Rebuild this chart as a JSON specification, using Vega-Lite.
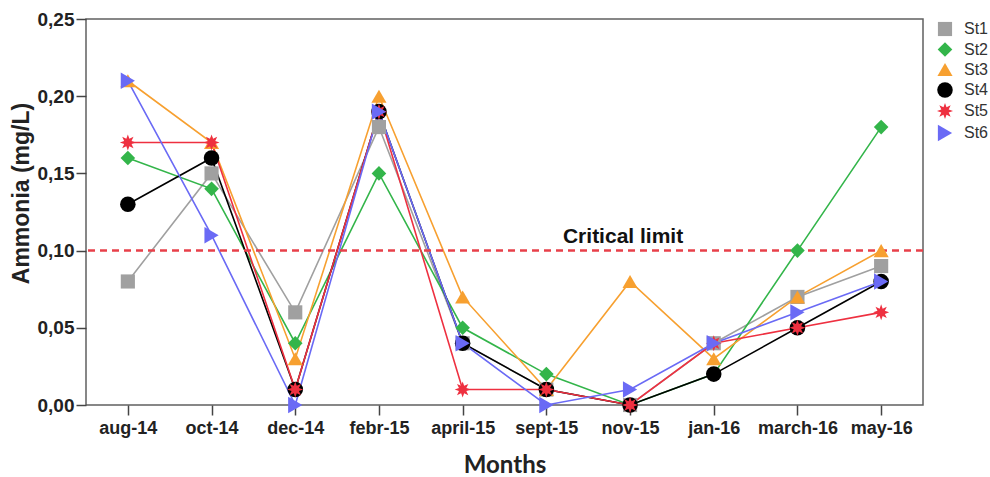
{
  "$schema": "https://vega.github.io/schema/vega-lite/v6.json",
  "width": 837,
  "height": 386,
  "autosize": "none",
  "padding": {"left": 86, "top": 19, "right": 67, "bottom": 72},
  "background": "white",
  "config": {
    "view": {"stroke": "#606060", "strokeWidth": 1.5},
    "font": "Liberation Sans"
  },
  "datasets": {
    "limit": [{"limit": 0.1, "label": "Critical limit", "month": "nov-15"}],
    "ammonia": [
      {"month": "aug-14", "station": "St1", "ammonia": 0.08},
      {"month": "oct-14", "station": "St1", "ammonia": 0.15},
      {"month": "dec-14", "station": "St1", "ammonia": 0.06},
      {"month": "febr-15", "station": "St1", "ammonia": 0.18},
      {"month": "april-15", "station": "St1", "ammonia": 0.04},
      {"month": "sept-15", "station": "St1", "ammonia": 0.01},
      {"month": "nov-15", "station": "St1", "ammonia": 0.0},
      {"month": "jan-16", "station": "St1", "ammonia": 0.04},
      {"month": "march-16", "station": "St1", "ammonia": 0.07},
      {"month": "may-16", "station": "St1", "ammonia": 0.09},
      {"month": "aug-14", "station": "St2", "ammonia": 0.16},
      {"month": "oct-14", "station": "St2", "ammonia": 0.14},
      {"month": "dec-14", "station": "St2", "ammonia": 0.04},
      {"month": "febr-15", "station": "St2", "ammonia": 0.15},
      {"month": "april-15", "station": "St2", "ammonia": 0.05},
      {"month": "sept-15", "station": "St2", "ammonia": 0.02},
      {"month": "nov-15", "station": "St2", "ammonia": 0.0},
      {"month": "jan-16", "station": "St2", "ammonia": 0.02},
      {"month": "march-16", "station": "St2", "ammonia": 0.10},
      {"month": "may-16", "station": "St2", "ammonia": 0.18},
      {"month": "aug-14", "station": "St3", "ammonia": 0.21},
      {"month": "oct-14", "station": "St3", "ammonia": 0.17},
      {"month": "dec-14", "station": "St3", "ammonia": 0.03},
      {"month": "febr-15", "station": "St3", "ammonia": 0.20},
      {"month": "april-15", "station": "St3", "ammonia": 0.07},
      {"month": "sept-15", "station": "St3", "ammonia": 0.01},
      {"month": "nov-15", "station": "St3", "ammonia": 0.08},
      {"month": "jan-16", "station": "St3", "ammonia": 0.03},
      {"month": "march-16", "station": "St3", "ammonia": 0.07},
      {"month": "may-16", "station": "St3", "ammonia": 0.10},
      {"month": "aug-14", "station": "St4", "ammonia": 0.13},
      {"month": "oct-14", "station": "St4", "ammonia": 0.16},
      {"month": "dec-14", "station": "St4", "ammonia": 0.01},
      {"month": "febr-15", "station": "St4", "ammonia": 0.19},
      {"month": "april-15", "station": "St4", "ammonia": 0.04},
      {"month": "sept-15", "station": "St4", "ammonia": 0.01},
      {"month": "nov-15", "station": "St4", "ammonia": 0.0},
      {"month": "jan-16", "station": "St4", "ammonia": 0.02},
      {"month": "march-16", "station": "St4", "ammonia": 0.05},
      {"month": "may-16", "station": "St4", "ammonia": 0.08},
      {"month": "aug-14", "station": "St5", "ammonia": 0.17},
      {"month": "oct-14", "station": "St5", "ammonia": 0.17},
      {"month": "dec-14", "station": "St5", "ammonia": 0.01},
      {"month": "febr-15", "station": "St5", "ammonia": 0.19},
      {"month": "april-15", "station": "St5", "ammonia": 0.01},
      {"month": "sept-15", "station": "St5", "ammonia": 0.01},
      {"month": "nov-15", "station": "St5", "ammonia": 0.0},
      {"month": "jan-16", "station": "St5", "ammonia": 0.04},
      {"month": "march-16", "station": "St5", "ammonia": 0.05},
      {"month": "may-16", "station": "St5", "ammonia": 0.06},
      {"month": "aug-14", "station": "St6", "ammonia": 0.21},
      {"month": "oct-14", "station": "St6", "ammonia": 0.11},
      {"month": "dec-14", "station": "St6", "ammonia": 0.0},
      {"month": "febr-15", "station": "St6", "ammonia": 0.19},
      {"month": "april-15", "station": "St6", "ammonia": 0.04},
      {"month": "sept-15", "station": "St6", "ammonia": 0.0},
      {"month": "nov-15", "station": "St6", "ammonia": 0.01},
      {"month": "jan-16", "station": "St6", "ammonia": 0.04},
      {"month": "march-16", "station": "St6", "ammonia": 0.06},
      {"month": "may-16", "station": "St6", "ammonia": 0.08}
    ]
  },
  "layer": [
    {
      "data": {"name": "ammonia"},
      "mark": {"type": "line", "strokeWidth": 1.6},
      "encoding": {
        "x": {
          "field": "month",
          "type": "ordinal",
          "sort": ["aug-14", "oct-14", "dec-14", "febr-15", "april-15", "sept-15", "nov-15", "jan-16", "march-16", "may-16"],
          "scale": {"type": "point", "padding": 0.5, "domain": ["aug-14", "oct-14", "dec-14", "febr-15", "april-15", "sept-15", "nov-15", "jan-16", "march-16", "may-16"]},
          "axis": {
            "title": "Months",
            "titleFont": "Lato",
            "titleFontSize": 24,
            "titleFontWeight": "bold",
            "titleColor": "#222222",
            "titlePadding": 16,
            "labelAngle": 0,
            "labelFontSize": 18,
            "labelFontWeight": "bold",
            "labelColor": "#222222",
            "labelPadding": 4,
            "domain": false,
            "tickColor": "#444444",
            "tickWidth": 1.5,
            "tickSize": 10,
            "grid": false
          }
        },
        "y": {
          "field": "ammonia",
          "type": "quantitative",
          "scale": {"domain": [0, 0.25], "nice": false},
          "axis": {
            "title": "Ammonia (mg/L)",
            "titleFont": "Liberation Sans",
            "titleFontSize": 23,
            "titleFontWeight": "bold",
            "titleColor": "#222222",
            "titlePadding": 4,
            "titleY": 174,
            "values": [0, 0.05, 0.1, 0.15, 0.2, 0.25],
            "labelExpr": "replace(format(datum.value, '.2f'), '.', ',')",
            "labelFontSize": 19,
            "labelFontWeight": "bold",
            "labelColor": "#222222",
            "labelPadding": 2,
            "domain": false,
            "tickColor": "#444444",
            "tickWidth": 1.5,
            "tickSize": 10,
            "grid": false
          }
        },
        "stroke": {
          "field": "station",
          "type": "nominal",
          "scale": {"range": ["#a0a0a0", "#33b54a", "#f7a030", "#000000", "#ee3040", "#6a6af5"]},
          "legend": null
        },
        "detail": {"field": "station"}
      }
    },
    {
      "data": {"name": "limit"},
      "mark": {"type": "rule", "color": "#e8404a", "strokeWidth": 2.5, "strokeDash": [7, 5]},
      "encoding": {"y": {"field": "limit", "type": "quantitative"}}
    },
    {
      "data": {"name": "limit"},
      "mark": {"type": "text", "fontSize": 21, "fontWeight": "bold", "color": "#111111", "baseline": "alphabetic", "dy": -8, "dx": -7},
      "encoding": {
        "x": {"field": "month", "type": "ordinal", "sort": ["aug-14", "oct-14", "dec-14", "febr-15", "april-15", "sept-15", "nov-15", "jan-16", "march-16", "may-16"], "scale": {"domain": ["aug-14", "oct-14", "dec-14", "febr-15", "april-15", "sept-15", "nov-15", "jan-16", "march-16", "may-16"]}},
        "y": {"field": "limit", "type": "quantitative"},
        "text": {"field": "label"}
      }
    },
    {
      "data": {"name": "ammonia"},
      "mark": {"type": "point", "filled": true, "opacity": 1},
      "encoding": {
        "x": {"field": "month", "type": "ordinal", "sort": ["aug-14", "oct-14", "dec-14", "febr-15", "april-15", "sept-15", "nov-15", "jan-16", "march-16", "may-16"], "scale": {"domain": ["aug-14", "oct-14", "dec-14", "febr-15", "april-15", "sept-15", "nov-15", "jan-16", "march-16", "may-16"]}},
        "y": {"field": "ammonia", "type": "quantitative"},
        "color": {
          "field": "station",
          "type": "nominal",
          "scale": {"domain": ["St1", "St2", "St3", "St4", "St5", "St6"], "range": ["#a0a0a0", "#33b54a", "#f7a030", "#000000", "#ee3040", "#6a6af5"]},
          "legend": {
            "title": null,
            "orient": "none",
            "legendX": 850,
            "legendY": 2,
            "padding": 0,
            "labelFontSize": 16,
            "labelColor": "#333333",
            "labelOffset": 10,
            "rowPadding": -1,
            "symbolOpacity": 1
          }
        },
        "shape": {
          "field": "station",
          "type": "nominal",
          "scale": {"domain": ["St1", "St2", "St3", "St4", "St5", "St6"], "range": ["square", "diamond", "triangle-up", "circle", "M1,0L0.462,0.191L0.707,0.707L0.191,0.462L0,1L-0.191,0.462L-0.707,0.707L-0.462,0.191L-1,0L-0.462,-0.191L-0.707,-0.707L-0.191,-0.462L0,-1L0.191,-0.462L0.707,-0.707L0.462,-0.191Z", "triangle-right"]},
          "legend": {
            "title": null,
            "orient": "none",
            "legendX": 850,
            "legendY": 2,
            "padding": 0,
            "labelFontSize": 16,
            "labelColor": "#333333",
            "labelOffset": 10,
            "rowPadding": -1,
            "symbolOpacity": 1
          }
        },
        "size": {
          "field": "station",
          "type": "nominal",
          "scale": {"domain": ["St1", "St2", "St3", "St4", "St5", "St6"], "range": [200, 270, 230, 210, 260, 230]},
          "legend": {
            "title": null,
            "orient": "none",
            "legendX": 850,
            "legendY": 2,
            "padding": 0,
            "labelFontSize": 16,
            "labelColor": "#333333",
            "labelOffset": 10,
            "rowPadding": -1,
            "symbolOpacity": 1
          }
        }
      }
    }
  ]
}
